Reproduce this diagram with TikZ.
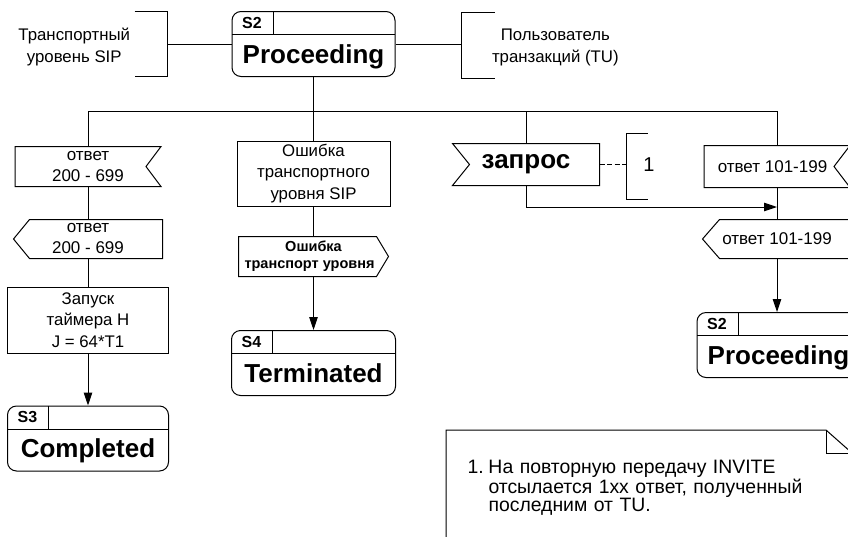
\documentclass[tikz,border=0pt]{standalone}
\usepackage{fontspec}
\setmainfont{Liberation Sans}
\usetikzlibrary{arrows.meta}
\usetikzlibrary{positioning}

\newcommand{\fsz}[2]{\fontsize{#1}{#2}\selectfont}
% outlines of the signal boxes
\newcommand{\notchE}[2]{\draw (#1.north west) -- (#1.north east) -- ([xshift=-#2]#1.east) -- (#1.south east) -- (#1.south west) -- cycle;}
\newcommand{\notchW}[2]{\draw (#1.north west) -- (#1.north east) -- (#1.south east) -- (#1.south west) -- ([xshift=#2]#1.west) -- cycle;}
\newcommand{\pointW}[2]{\draw ([xshift=#2]#1.north west) -- (#1.north east) -- (#1.south east) -- ([xshift=#2]#1.south west) -- (#1.west) -- cycle;}
\newcommand{\pointE}[2]{\draw (#1.north west) -- ([xshift=-#2]#1.north east) -- (#1.east) -- ([xshift=-#2]#1.south east) -- (#1.south west) -- cycle;}

\tikzset{
  txt/.style={inner sep=0pt, align=center, font=\fsz{16.8}{22}},
  box/.style={rectangle, draw, inner sep=0pt, align=center, font=\fsz{16.8}{21.5}},
  sig/.style={rectangle, inner sep=0pt, align=center, font=\fsz{17}{21}},
  brk/.style={rectangle, inner sep=0pt, minimum width=32pt, minimum height=64pt},
  stbox/.style={rectangle, draw, rounded corners=9pt, inner sep=0pt, minimum width=163pt, minimum height=65pt,
    text height=42pt, text depth=4pt, font=\fsz{26}{26}\bfseries,
    label={[font=\fsz{16}{16}\bfseries, anchor=center, xshift=20.5pt, yshift=-11.5pt]north west:#1},
    path picture={
      \draw ([yshift=-23pt]path picture bounding box.north west) -- ([yshift=-23pt]path picture bounding box.north east);
      \draw ([xshift=41pt]path picture bounding box.north west) -- ++(0,23);
    }},
  arr/.style={-{Triangle[length=13pt,width=8.5pt]}},
  notebox/.style={anchor=north west, inner xsep=21pt, inner ysep=30pt, text width=363pt, align=left,
    text depth=100pt, font=\fsz{19.4}{18}}
}

\begin{document}
\begin{tikzpicture}[x=1pt, y=-1pt, line width=1pt]
\useasboundingbox (0,0) rectangle (848,536);
\clip (0,0) rectangle (848,536);

% state S2 with transport layer and TU
\node (s2top) [stbox=S2] at (313.5,44) {Proceeding};
\node (brL) [brk] at (151,44) {};
\node (tsip) [txt, left=4pt of brL, yshift=-3pt] {Транспортный\\уровень SIP};
\node (brR) [brk, minimum height=65pt] at (478,45.5) {};
\node (tu) [txt, right=-3pt of brR, yshift=-2pt] {Пользователь\\транзакций (TU)};
\coordinate (bus) at ([yshift=-34pt]s2top.south);

% final answer branch
\node (r200) [sig, minimum width=145pt, minimum height=39pt] at (88,166.5) {ответ\\200 - 699};
\node (s200) [sig, minimum width=148pt, minimum height=38pt] at (88,239) {ответ\\200 - 699};
\node (tmr) [box, minimum width=161pt, minimum height=66pt] at (88,320) {Запуск\\таймера H\\J = 64*T1};
\node (s3) [stbox=S3, minimum width=161pt] at (88,438.5) {Completed};

% transport error branch
\node (err) [box, minimum width=153pt, minimum height=65pt] at (313.5,173.5) {Ошибка\\транспортного\\уровня SIP};
\node (serr) [sig, minimum width=149pt, minimum height=39pt, font=\fsz{14.5}{16.7}\bfseries] at (313.5,256.5) {Ошибка\\транспорт уровня\hspace*{8pt}};
\node (s4) [stbox=S4, minimum width=164pt] at (313.5,363) {Terminated};

% request branch
\node (req) [sig, minimum width=146pt, minimum height=41pt, font=\fsz{26}{26}\bfseries] at (526,164.5) {запрос};
\node (br1) [brk, minimum width=20pt, minimum height=65pt] at (637,166.5) {};
\node (n1) [txt, font=\fsz{20}{20}] at (649,165) {1};
\coordinate (mrg) at (777,207);

% provisional answer branch
\node (r101) [sig, minimum width=145pt, minimum height=41pt] at (777,166.5) {ответ 101-199\hspace*{9pt}};
\node (s101) [sig, minimum width=148pt, minimum height=38pt] at (777,239) {ответ 101-199};
\node (s2r) [stbox=S2] at (778.5,345) {Proceeding};

% note
\node (note) [notebox] at (446,430) {\makebox[21pt][l]{1.}На повторную передачу INVITE\\\hspace*{21pt}отсылается 1xx ответ, полученный\\\hspace*{21pt}последним от TU.};

% outlines
\notchE{r200}{15pt}
\pointW{s200}{16pt}
\pointE{serr}{12pt}
\notchW{req}{17pt}
\notchE{r101}{16pt}
\pointW{s101}{17pt}
\draw (brL.north west) -- (brL.north east) -- (brL.south east) -- (brL.south west);
\draw (brR.north east) -- (brR.north west) -- (brR.south west) -- (brR.south east);
\draw (br1.north east) -- (br1.north west) -- (br1.south west) -- (br1.south east);
\draw (note.south west) -- (note.north west) -- ([xshift=-26pt]note.north east) -- ([yshift=-23pt]note.north east) -- (note.south east);
\draw ([xshift=-26pt]note.north east) |- ([yshift=-23pt]note.north east);

% connectors
\draw (brL.east) -- (s2top.west);
\draw (s2top.east) -- (s2top.east -| brR.west);
\draw (s2top.south) -- (bus) -| (r200.north);
\draw (bus) -- (err.north);
\draw (bus) -| (req.north);
\draw (bus) -| (r101.north);
\draw (r200.south) -- (s200.north);
\draw (s200.south) -- (tmr.north);
\draw[arr] (tmr.south) -- (s3.north);
\draw (err.south) -- (serr.north);
\draw[arr] (serr.south) -- (s4.north);
\draw[dash pattern=on 5pt off 2.5pt, line width=1.5pt] (req.east) -- (req.east -| br1.west);
\draw[arr] (req.south) |- (mrg);
\draw (r101.south) -- (s101.north);
\draw[arr] (s101.south) -- (s101.south |- s2r.north);
\end{tikzpicture}
\end{document}
